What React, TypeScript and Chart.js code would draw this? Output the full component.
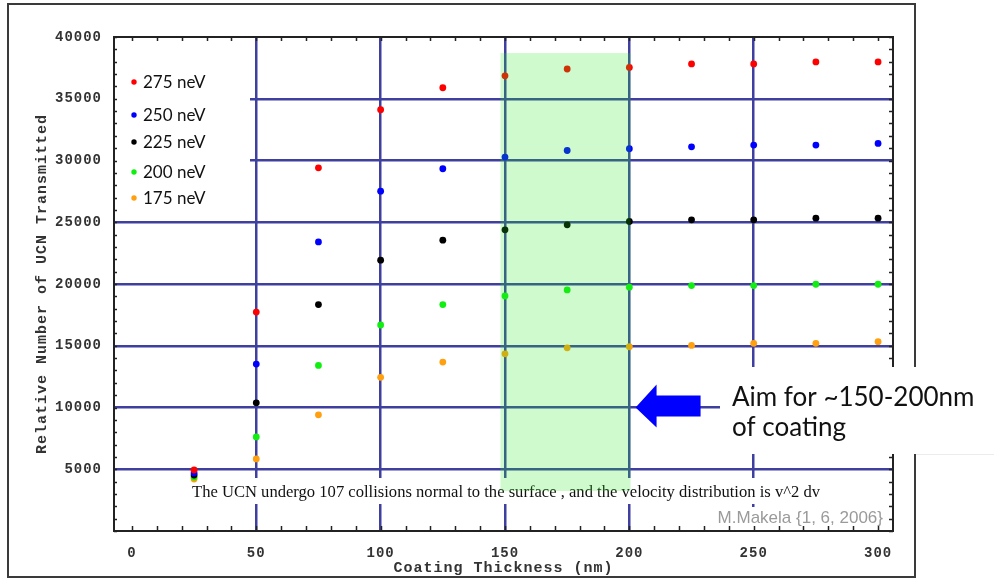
import React, { useEffect, useRef } from 'react';
import { Chart, registerables } from 'chart.js';

Chart.register(...registerables);

// ---------- data ----------
const thickness = [25, 50, 75, 100, 125, 150, 175, 200, 225, 250, 275, 300];
const series275 = [4940, 17730, 29410, 34110, 35890, 36860, 37410, 37540, 37820, 37820, 37980, 37980];
const series250 = [4700, 13520, 23410, 27520, 29330, 30280, 30810, 30950, 31110, 31250, 31250, 31380];
const series225 = [4530, 10380, 18330, 21930, 23550, 24390, 24790, 25060, 25200, 25200, 25330, 25330];
const series200 = [4370, 7620, 13410, 16680, 18330, 19030, 19520, 19740, 19870, 19870, 19980, 19980];
const series175 = [4210, 5840, 9410, 12440, 13680, 14350, 14830, 14920, 15030, 15200, 15200, 15330];

const seriesLabels = ['275 neV', '250 neV', '225 neV', '200 neV', '175 neV'];
const seriesColors = ['#ff0000', '#0000ff', '#000000', '#11ee11', '#ffa010'];

const xTicks = [0, 50, 100, 150, 200, 250, 300];
const yTicks = [0, 5000, 10000, 15000, 20000, 25000, 30000, 35000, 40000];

const highlightX = [148.2, 200.5];
const highlightY = [3240, 38700];

const xTitle = 'Coating Thickness (nm)';
const yTitle = 'Relative Number of UCN Transmitted';
const note = 'The UCN undergo 107 collisions normal to the surface , and the velocity distribution is v^2 dv';
const credit = 'M.Makela {1, 6, 2006}';
const aimLines = ['Aim for ~150-200nm', 'of coating'];
const aimTarget = { x: 202.5, y: 10000 };

// ---------- styles ----------
const gridColor = '#3f3fa0';
const axisColor = '#222222';
const monoFont = '"Liberation Mono", "DejaVu Sans Mono", monospace';

const decorPlugin = {
  id: 'decor',
  beforeDraw(chart: any) {
    chart.ctx.letterSpacing = '1px';
  },
  beforeDatasetsDraw(chart: any) {
    const ctx = chart.ctx;
    ctx.letterSpacing = '0px';
    const { left, top, right, bottom } = chart.chartArea;
    ctx.save();
    ctx.fillStyle = '#ffffff';
    // legend background
    ctx.fillRect(left + 1, top + 1, 249 - left, 212 - top);
    // note background
    ctx.fillRect(190, 478, 636, 26);
    // credit background
    ctx.fillRect(712, 507, right - 712 - 2, bottom - 507 - 1);
    ctx.restore();
  },
  afterDatasetsDraw(chart: any) {
    const ctx = chart.ctx;
    const xs = chart.scales.x;
    const ys = chart.scales.y;
    const { left, top, right, bottom } = chart.chartArea;
    ctx.save();

    // note text
    ctx.fillStyle = '#111';
    ctx.font = '17px "Liberation Serif", "DejaVu Serif", serif';
    ctx.textAlign = 'center';
    ctx.textBaseline = 'alphabetic';
    ctx.fillText(note, 506, 497, 628);

    // green highlight band (semi-transparent overlay)
    const gx0 = xs.getPixelForValue(highlightX[0]);
    const gx1 = xs.getPixelForValue(highlightX[1]);
    const gy0 = ys.getPixelForValue(highlightY[1]);
    const gy1 = ys.getPixelForValue(highlightY[0]);
    ctx.fillStyle = 'rgba(30,230,30,0.22)';
    ctx.fillRect(gx0, gy0, gx1 - gx0, gy1 - gy0);

    // credit
    ctx.fillStyle = '#9a9a9a';
    ctx.font = '17px "Liberation Sans", Arial, sans-serif';
    ctx.textAlign = 'right';
    ctx.fillText(credit, 883, 523);

    // plot frame
    ctx.strokeStyle = axisColor;
    ctx.lineWidth = 2;
    ctx.strokeRect(left, top, right - left, bottom - top);

    // minor ticks
    ctx.lineWidth = 1.5;
    ctx.beginPath();
    for (let v = 0; v <= 300; v += 10) {
      const px = Math.round(xs.getPixelForValue(v)) + 0.5;
      ctx.moveTo(px, bottom);
      ctx.lineTo(px, bottom - 5);
      ctx.moveTo(px, top);
      ctx.lineTo(px, top + 4);
    }
    for (let v = 0; v <= 40000; v += 1000) {
      const py = Math.round(ys.getPixelForValue(v)) + 0.5;
      ctx.moveTo(left, py);
      ctx.lineTo(left + 3, py);
      ctx.moveTo(right, py);
      ctx.lineTo(right - 4, py);
    }
    ctx.stroke();

    // legend
    const rows = [82, 115, 142, 172, 198];
    ctx.font = '17px Lato, "Open Sans", sans-serif';
    ctx.textAlign = 'left';
    ctx.textBaseline = 'middle';
    chart.data.datasets.forEach((ds: any, i: number) => {
      ctx.fillStyle = ds.backgroundColor;
      ctx.beginPath();
      ctx.arc(134, rows[i], 2.7, 0, Math.PI * 2);
      ctx.fill();
      ctx.fillStyle = '#111';
      ctx.fillText(ds.label, 143, rows[i] + 1);
    });

    // outer frame
    ctx.strokeStyle = '#3a3a3a';
    ctx.lineWidth = 2;
    ctx.strokeRect(8, 4, 907, 573);

    // "Aim for" box
    ctx.fillStyle = '#ffffff';
    ctx.fillRect(720, 367, 274, 87);
    ctx.strokeStyle = '#ececec';
    ctx.lineWidth = 1;
    ctx.beginPath();
    ctx.moveTo(916, 454.5);
    ctx.lineTo(994, 454.5);
    ctx.stroke();

    // arrow
    const tipX = xs.getPixelForValue(aimTarget.x);
    const tipY = ys.getPixelForValue(aimTarget.y);
    ctx.fillStyle = '#0000ff';
    ctx.beginPath();
    ctx.moveTo(tipX, tipY);
    ctx.lineTo(tipX + 21, tipY - 23);
    ctx.lineTo(tipX + 21, tipY - 12);
    ctx.lineTo(tipX + 65, tipY - 12);
    ctx.lineTo(tipX + 65, tipY + 9);
    ctx.lineTo(tipX + 21, tipY + 9);
    ctx.lineTo(tipX + 21, tipY + 20);
    ctx.closePath();
    ctx.fill();

    // aim text
    ctx.fillStyle = '#111';
    ctx.font = '26px Lato, "Open Sans", sans-serif';
    ctx.textAlign = 'left';
    ctx.textBaseline = 'alphabetic';
    ctx.fillText(aimLines[0], 732, 406, 248);
    ctx.fillText(aimLines[1], 732, 436);

    ctx.restore();
  },
};

export default function App() {
  const canvasRef = useRef<HTMLCanvasElement | null>(null);

  useEffect(() => {
    const canvas = canvasRef.current;
    if (!canvas) return;
    const seriesValues = [series275, series250, series225, series200, series175];
    const datasets = seriesLabels.map((label, i) => ({
      label,
      data: thickness.map((t, j) => ({ x: t, y: seriesValues[i][j] })),
      backgroundColor: seriesColors[i],
      borderColor: seriesColors[i],
      pointRadius: 3.4,
      pointBorderWidth: 0,
      showLine: false,
    }));
    const tickFont = { family: monoFont, size: 14, weight: 'bold' as const };
    const titleFont = { family: monoFont, size: 15, weight: 'bold' as const };
    const chart = new Chart(canvas, {
      type: 'scatter',
      data: { datasets },
      plugins: [decorPlugin],
      options: {
        responsive: false,
        animation: false,
        devicePixelRatio: 1,
        layout: { padding: { left: 0, top: 37, right: 101, bottom: 0 } },
        plugins: {
          legend: { display: false },
          tooltip: { enabled: false },
          title: { display: false },
        },
        scales: {
          x: {
            type: 'linear',
            min: -7.2,
            max: 306,
            afterBuildTicks: (s: any) => {
              s.ticks = xTicks.map((v) => ({ value: v }));
            },
            afterFit: (s: any) => {
              s.height = 48;
            },
            grid: {
              color: (c: any) =>
                c.tick && (c.tick.value === 0 || c.tick.value === 300) ? 'rgba(0,0,0,0)' : gridColor,
              lineWidth: 2.5,
              drawTicks: false,
            },
            border: { display: false },
            ticks: {
              padding: 14,
              font: tickFont,
              color: '#333',
              maxRotation: 0,
              autoSkip: false,
              callback: (v: any) => String(v),
            },
            title: {
              display: true,
              text: xTitle,
              font: titleFont,
              color: '#333',
              padding: { top: 0, bottom: 2 },
            },
          },
          y: {
            type: 'linear',
            min: 0,
            max: 40000,
            afterBuildTicks: (s: any) => {
              s.ticks = yTicks.map((v) => ({ value: v }));
            },
            afterFit: (s: any) => {
              s.width = 114;
            },
            grid: {
              color: (c: any) =>
                c.tick && (c.tick.value === 0 || c.tick.value === 40000) ? 'rgba(0,0,0,0)' : gridColor,
              lineWidth: 2.5,
              drawTicks: false,
            },
            border: { display: false },
            ticks: {
              padding: 12,
              font: tickFont,
              color: '#333',
              autoSkip: false,
              callback: (v: any) => (v === 0 ? '' : String(v)),
            },
            title: {
              display: true,
              text: yTitle,
              font: titleFont,
              color: '#333',
              padding: { top: 33, bottom: 0 },
            },
          },
        },
      },
    } as any);
    return () => chart.destroy();
  }, []);

  return (
    <div style={{ position: 'absolute', left: 0, top: 0, width: 994, height: 579, background: '#fff' }}>
      <canvas ref={canvasRef} width={994} height={579} style={{ display: 'block' }} />
    </div>
  );
}
